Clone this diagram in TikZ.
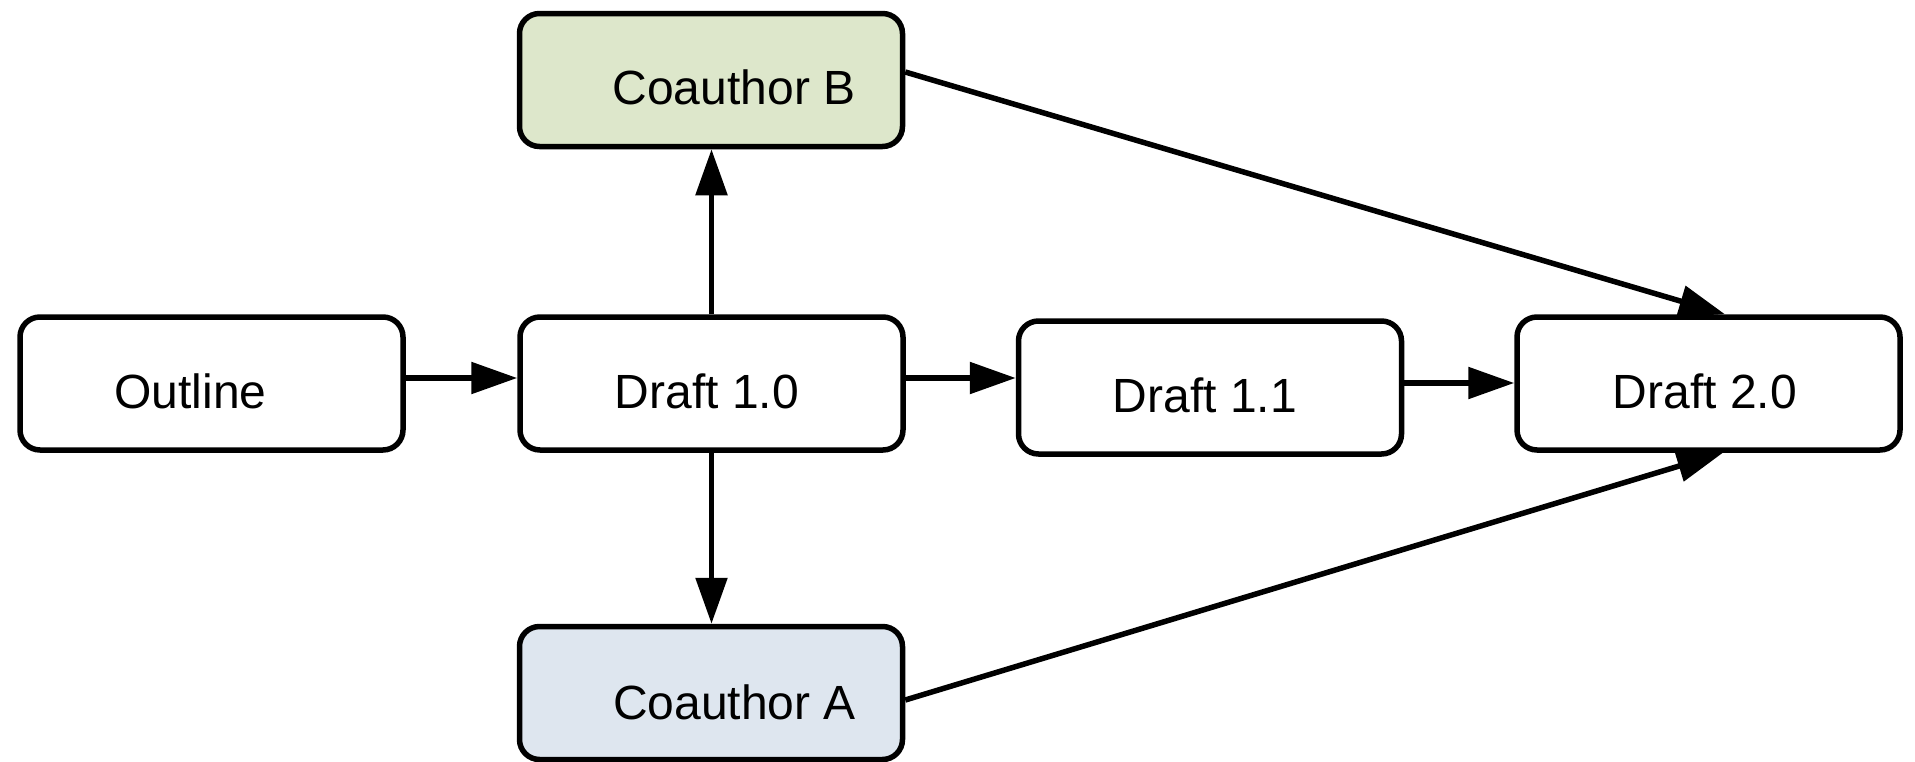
\documentclass[tikz,border=0pt]{standalone}
\usepackage{fontspec}
\setmainfont{Liberation Sans}
\usetikzlibrary{arrows.meta,calc}
\definecolor{boxgreen}{RGB}{221,231,203}
\definecolor{boxblue}{RGB}{222,230,239}
\tikzset{
  stagebox/.style={draw=black, line width=5.5pt, rounded corners=20pt,
    minimum width=383pt, minimum height=133pt, inner sep=0pt, fill=white},
  stagelabel/.style={anchor=base, inner sep=0pt, font=\fontsize{48}{57}\selectfont},
  flow/.style={line width=5.5pt, -{Triangle[length=46pt, width=31pt]}}
}
\begin{document}
\begin{tikzpicture}[x=1pt, y=-1pt]
  \useasboundingbox (0,0) rectangle (1915,761);

  % stage boxes
  \node[stagebox] (outline) at (211.5,383.5) {};
  \node[stagebox] (d10) at (711.5,383.5) {};
  \node[stagebox, fill=boxgreen] (cb) at (711,80) {};
  \node[stagebox, fill=boxblue] (ca) at (711,693) {};
  \node[stagebox] (d11) at (1210,387.5) {};
  \node[stagebox] (d20) at (1708.5,383.5) {};

  % stage names
  \node[stagelabel] (toutline) at (190.5,408) {Outline};
  \node[stagelabel] (td10) at (707,408) {Draft 1.0};
  \node[stagelabel] (tcb) at (734,104) {Coauthor B};
  \node[stagelabel] (tca) at (734.5,719) {Coauthor A};
  \node[stagelabel] (td11) at (1205,412) {Draft 1.1};
  \node[stagelabel] (td20) at (1705,408) {Draft 2.0};

  % connectors
  \draw[flow] (outline.east |- 0,378) -- (d10.west |- 0,378);
  \draw[flow] (d10.east |- 0,378) -- (d11.west |- 0,378);
  \draw[flow] (d11.east |- 0,383) -- (d20.west |- 0,383);
  \draw[flow] (d10.north) -- (d10.north |- cb.south);
  \draw[flow] (d10.south) -- (d10.south |- ca.north);
  \draw[flow] (cb.east |- 0,72) -- (d20.north -| 1725,0);
  \draw[flow] (ca.east |- 0,700) -- (d20.south -| 1723,0);
\end{tikzpicture}
\end{document}
